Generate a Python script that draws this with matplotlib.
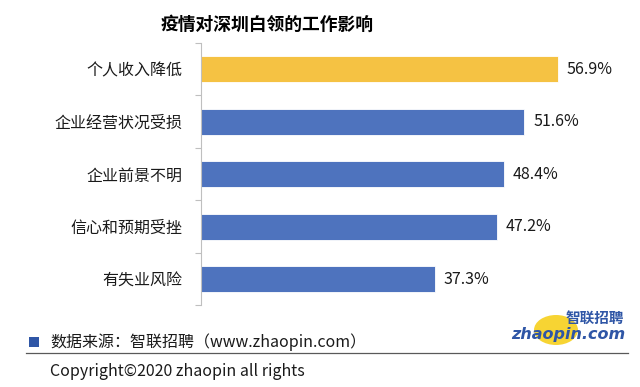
import matplotlib
matplotlib.use("Agg")
import matplotlib.pyplot as plt
from matplotlib.patches import Ellipse, Rectangle
from matplotlib.lines import Line2D

plt.rcParams['font.family'] = ['Noto Sans CJK SC', 'DejaVu Sans']

title = "疫情对深圳白领的工作影响"
categories = ["个人收入降低", "企业经营状况受损", "企业前景不明", "信心和预期受挫", "有失业风险"]
values = [56.9, 51.6, 48.4, 47.2, 37.3]
colors = ["#F5C243", "#4E73BE", "#4E73BE", "#4E73BE", "#4E73BE"]
source_text = "数据来源：智联招聘（www.zhaopin.com）"
copyright_text = "Copyright©2020 zhaopin all rights"

fig = plt.figure(figsize=(6.4, 3.87), dpi=100)
ax = fig.add_axes([0.3133, 0.2106, 0.6375, 0.6783])

n = len(categories)
ypos = list(range(n))
ax.barh(ypos, values, height=0.5, color=colors, edgecolor="#FFFFFF", linewidth=0.6)
ax.set_ylim(n - 0.5, -0.5)
ax.set_xlim(0, 65)

for y, v in zip(ypos, values):
    ax.text(v + 1.4, y, f"{v:.1f}%", va="center", ha="left", fontsize=11.5, color="#1a1a1a")

ax.set_yticks(ypos)
ax.set_yticklabels(categories, fontsize=11.5, color="#1a1a1a")
ax.tick_params(axis="y", which="major", length=0, pad=13)
ax.set_yticks([i - 0.5 for i in range(n + 1)], minor=True)
ax.tick_params(axis="y", which="minor", length=4, color="#BFBFBF", width=0.8)
ax.set_xticks([])
for s in ["top", "right", "bottom"]:
    ax.spines[s].set_visible(False)
ax.spines["left"].set_color("#BFBFBF")
ax.spines["left"].set_linewidth(0.8)

fig.text(0.418, 1 - 25 / 387, title, ha="center", va="center", fontsize=12.8, fontweight="bold", color="#000000")

# footer
fig.patches.append(Rectangle((29 / 640, 1 - 347 / 387), 10 / 640, 10 / 387, transform=fig.transFigure,
                             facecolor="#2F56A6", edgecolor="none"))
fig.text(50 / 640, 1 - 342 / 387, source_text, ha="left", va="center", fontsize=11.5, color="#1a1a1a")
fig.lines.append(Line2D([26 / 640, 628 / 640], [1 - 352.5 / 387] * 2, transform=fig.transFigure,
                        color="#595959", linewidth=0.9))
fig.text(50 / 640, 1 - 371 / 387, copyright_text, ha="left", va="center", fontsize=11.5, color="#1a1a1a")

# logo
fig.patches.append(Ellipse((556 / 640, 1 - 330 / 387), 44 / 640, 30 / 387, transform=fig.transFigure,
                           facecolor="#F7D433", edgecolor="none"))
fig.text(624 / 640, 1 - 318 / 387, "智联招聘", ha="right", va="center", fontsize=10.5,
         fontweight="bold", color="#2F56A6", style="italic")
fig.text(511 / 640, 1 - 335 / 387, "zhaopin.com", ha="left", va="center", fontsize=11.5,
         fontweight="bold", color="#2F56A6", style="italic", family=["DejaVu Sans"])

fig.savefig("out.png", dpi=100)
